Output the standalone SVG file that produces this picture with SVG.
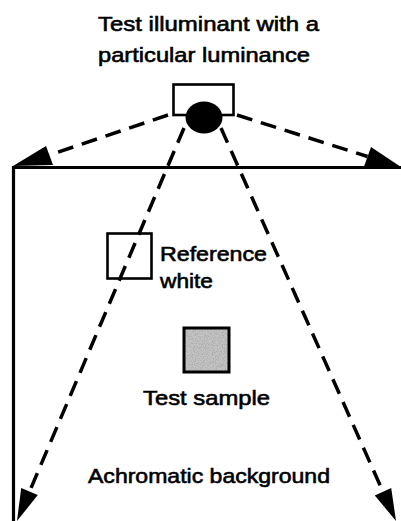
<svg xmlns="http://www.w3.org/2000/svg" width="401" height="521" viewBox="0 0 401 521">
  <style>
    .lbl { font-family: "Liberation Sans", Arial, Helvetica, sans-serif; font-size: 21px; fill: #000; stroke: #000; stroke-width: 0.6; }
    .ray { fill: none; stroke: #000; stroke-width: 3.5; stroke-dasharray: 16 9; }
    .head { fill: #000; stroke: none; }
    .edge { fill: none; stroke: #000; stroke-width: 3.2; }
  </style>
  <defs>
    <filter id="grain" x="0" y="0" width="100%" height="100%">
      <feTurbulence type="fractalNoise" baseFrequency="0.9" numOctaves="2" seed="3" result="n"/>
      <feColorMatrix in="n" type="matrix" values="0 0 0 0 0.35  0 0 0 0 0.35  0 0 0 0 0.35  0 0 0 2.2 -0.9" result="dots"/>
      <feComposite in="dots" in2="SourceGraphic" operator="in" result="d2"/>
      <feMerge><feMergeNode in="SourceGraphic"/><feMergeNode in="d2"/></feMerge>
    </filter>
  </defs>

  <rect width="401" height="521" fill="#fff"/>

  <!-- Background surface edges -->
  <g id="background">
    <line class="edge" x1="13" y1="167.5" x2="401" y2="167.5"/>
    <line class="edge" x1="13.5" y1="166" x2="13.5" y2="521"/>
  </g>

  <!-- Light rays from the illuminant -->
  <g id="connectors">
    <line class="ray" x1="168" y1="115" x2="49.5" y2="155"/>
    <polygon class="head" points="13,166 46,146 53,165"/>
    <line class="ray" x1="237" y1="115" x2="367.5" y2="156.5"/>
    <polygon class="head" points="371,147 364,166.5 401,167"/>
    <line class="ray" x1="184" y1="128" x2="29.5" y2="491.6"/>
    <polygon class="head" points="17,521 21.2,488 37.8,495"/>
    <line class="ray" x1="221" y1="128" x2="383" y2="491.8"/>
    <polygon class="head" points="396,521 391.2,488.1 374.8,495.5"/>
  </g>

  <!-- Illuminant: lamp housing with bulb -->
  <g id="illuminant">
    <rect x="173.5" y="84.5" width="60" height="30.5" fill="#fff" stroke="#000" stroke-width="2.6"/>
    <ellipse cx="204" cy="117.5" rx="18.5" ry="16" fill="#000"/>
    <text class="lbl" x="98" y="31" textLength="221" lengthAdjust="spacingAndGlyphs">Test illuminant with a</text>
    <text class="lbl" x="98" y="62" textLength="212" lengthAdjust="spacingAndGlyphs">particular luminance</text>
  </g>

  <!-- Reference white patch -->
  <g id="reference-white">
    <rect x="107.5" y="233.5" width="44" height="45" fill="none" stroke="#000" stroke-width="2.6"/>
    <text class="lbl" x="160" y="261" textLength="107" lengthAdjust="spacingAndGlyphs">Reference</text>
    <text class="lbl" x="160" y="288" textLength="53" lengthAdjust="spacingAndGlyphs">white</text>
  </g>

  <!-- Test sample patch -->
  <g id="test-sample">
    <rect x="184" y="328" width="45" height="44" fill="#c4c4c4" filter="url(#grain)"/>
    <rect x="184" y="328" width="45" height="44" fill="none" stroke="#000" stroke-width="3"/>
    <text class="lbl" x="143" y="405" textLength="127" lengthAdjust="spacingAndGlyphs">Test sample</text>
  </g>

  <!-- Surround label -->
  <g id="achromatic-background">
    <text class="lbl" x="88" y="483" textLength="242" lengthAdjust="spacingAndGlyphs">Achromatic background</text>
  </g>
</svg>
